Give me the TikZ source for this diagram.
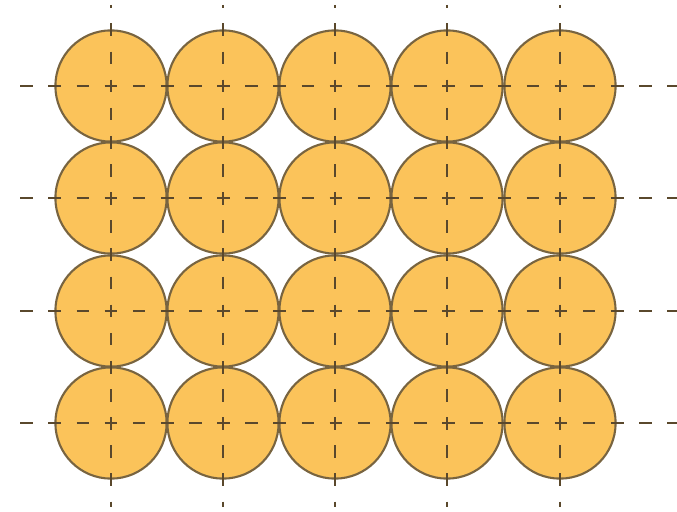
\documentclass[tikz,border=0pt]{standalone}
\usepackage{xcolor}
\definecolor{discfill}{HTML}{FBC35A}
\definecolor{discedge}{HTML}{786440}
\definecolor{axisline}{HTML}{5A482C}
\begin{document}
\begin{tikzpicture}[x=0.025cm, y=-0.025cm,
  disc/.style={circle, draw=discedge, fill=discfill, line width=1.5pt,
               minimum size=2.78cm, inner sep=0pt},
  axis/.style={draw=axisline, line width=2pt, dash pattern=on 9pt off 11pt},
]
\useasboundingbox (0,0) rectangle (677,512);
% discs
\foreach \i/\y in {1/86,2/198,3/311,4/423}
  \foreach \j/\x in {1/111,2/223,3/335,4/447,5/560}
    \node[disc] (d-\i-\j) at (\x,\y) {};
% row lines
\foreach \i/\y in {1/86,2/198,3/311,4/423} {
  \coordinate (rowl-\i) at (10,\y);
  \coordinate (rowr-\i) at (677,\y);
  \draw[axis, dash phase=12.66pt] (rowl-\i) -- (rowr-\i);
}
% column lines
\foreach \j/\x in {1/111,2/223,3/335,4/447,5/560} {
  \coordinate (colt-\j) at (\x,5);
  \coordinate (colb-\j) at (\x,507);
  \draw[axis, dash phase=6.9pt] (colt-\j) -- (colb-\j);
}
\end{tikzpicture}
\end{document}
